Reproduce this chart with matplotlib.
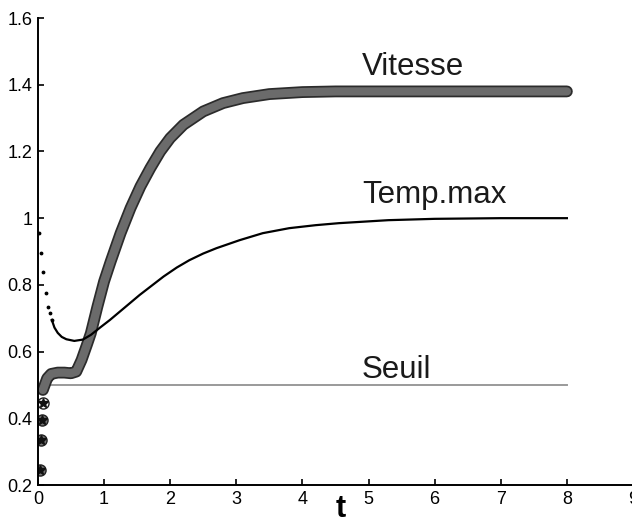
import numpy as np
import matplotlib.pyplot as plt
import matplotlib.patheffects as pe

plt.rcParams['font.family'] = ['Liberation Sans', 'DejaVu Sans']

# Vitesse (bande epaisse de marqueurs)
vit_x = [0.075, 0.14, 0.2, 0.3, 0.4, 0.5, 0.58, 0.66, 0.74, 0.8, 0.9, 1.0, 1.1,
         1.25, 1.4, 1.55, 1.7, 1.85, 2.0, 2.2, 2.5, 2.8, 3.1, 3.5, 4.0, 4.5,
         5.0, 6.0, 7.0, 8.0]
vit_y = [0.485, 0.52, 0.533, 0.537, 0.537, 0.535, 0.54, 0.575, 0.62, 0.655,
         0.735, 0.81, 0.87, 0.955, 1.03, 1.095, 1.15, 1.2, 1.24, 1.28, 1.32,
         1.345, 1.36, 1.372, 1.378, 1.38, 1.38, 1.38, 1.38, 1.38]

# premiers points de Vitesse (etoiles)
star_x = [0.03, 0.04, 0.055]
star_y = [0.245, 0.335, 0.395]
star_open_x = [0.08]
star_open_y = [0.446]

# Temp.max : debut en pointilles puis trait plein
tdot_x = [0.02, 0.05, 0.075, 0.12, 0.15, 0.18, 0.21]
tdot_y = [0.955, 0.895, 0.838, 0.775, 0.733, 0.716, 0.695]
temp_x = [0.21, 0.25, 0.3, 0.36, 0.43, 0.55, 0.68, 0.8, 0.94, 1.09, 1.3, 1.54,
          1.9, 2.1, 2.29, 2.5, 2.7, 3.05, 3.4, 3.8, 4.2, 4.55, 5.3, 6.0, 7.0, 8.0]
temp_y = [0.695, 0.672, 0.656, 0.644, 0.637, 0.632, 0.636, 0.65, 0.672, 0.695,
          0.73, 0.77, 0.825, 0.852, 0.874, 0.894, 0.91, 0.934, 0.955, 0.97,
          0.979, 0.985, 0.994, 0.998, 1.0, 1.0]

# Seuil
seuil_x = [0.15, 8.0]
seuil_y = [0.5, 0.5]

fig = plt.figure(figsize=(6.32, 5.2), dpi=100)
ax = fig.add_axes([0.060, 0.0673, 0.9416, 0.898])

ax.plot(seuil_x, seuil_y, color="#9a9a9a", lw=1.4)

ax.plot(vit_x, vit_y, color="#6b6b6b", lw=6, solid_capstyle="round",
        solid_joinstyle="round",
        path_effects=[pe.Stroke(linewidth=8.5, foreground="#2b2b2b"), pe.Normal()])

ax.plot(tdot_x, tdot_y, ".", color="k", markersize=3.5)
ax.plot(temp_x, temp_y, color="k", lw=1.6)

ax.plot(star_x, star_y, "o", ms=8, mfc="#777777", mec="#222222", mew=1.0)
ax.plot(star_x, star_y, "*", ms=7, color="#111111")
ax.plot(star_open_x, star_open_y, "o", ms=8, mfc="white", mec="#222222", mew=1.0)
ax.plot(star_open_x, star_open_y, "*", ms=7, color="#111111")

ax.text(4.9, 1.429, "Vitesse", fontsize=22.5, color="#1a1a1a")
ax.text(4.9, 1.045, "Temp.max", fontsize=22.5, color="#1a1a1a")
ax.text(4.9, 0.521, "Seuil", fontsize=22.5, color="#1a1a1a")

ax.set_xlim(0, 9)
ax.set_ylim(0.2, 1.6)
ax.set_xticks(np.arange(0, 10, 1))
ax.set_yticks([0.2, 0.4, 0.6, 0.8, 1.0, 1.2, 1.4, 1.6])
ax.set_yticklabels(["0.2", "0.4", "0.6", "0.8", "1", "1.2", "1.4", "1.6"])
ax.tick_params(direction="in", length=4, width=1.2, labelsize=13, pad=4)
ax.spines["top"].set_visible(False)
ax.spines["right"].set_visible(False)
ax.spines["left"].set_linewidth(1.4)
ax.spines["bottom"].set_linewidth(1.4)

ax.set_xlabel("t", fontsize=22, fontweight="bold")
ax.xaxis.set_label_coords(0.508, -0.02)

fig.savefig("out.png", dpi=100)
